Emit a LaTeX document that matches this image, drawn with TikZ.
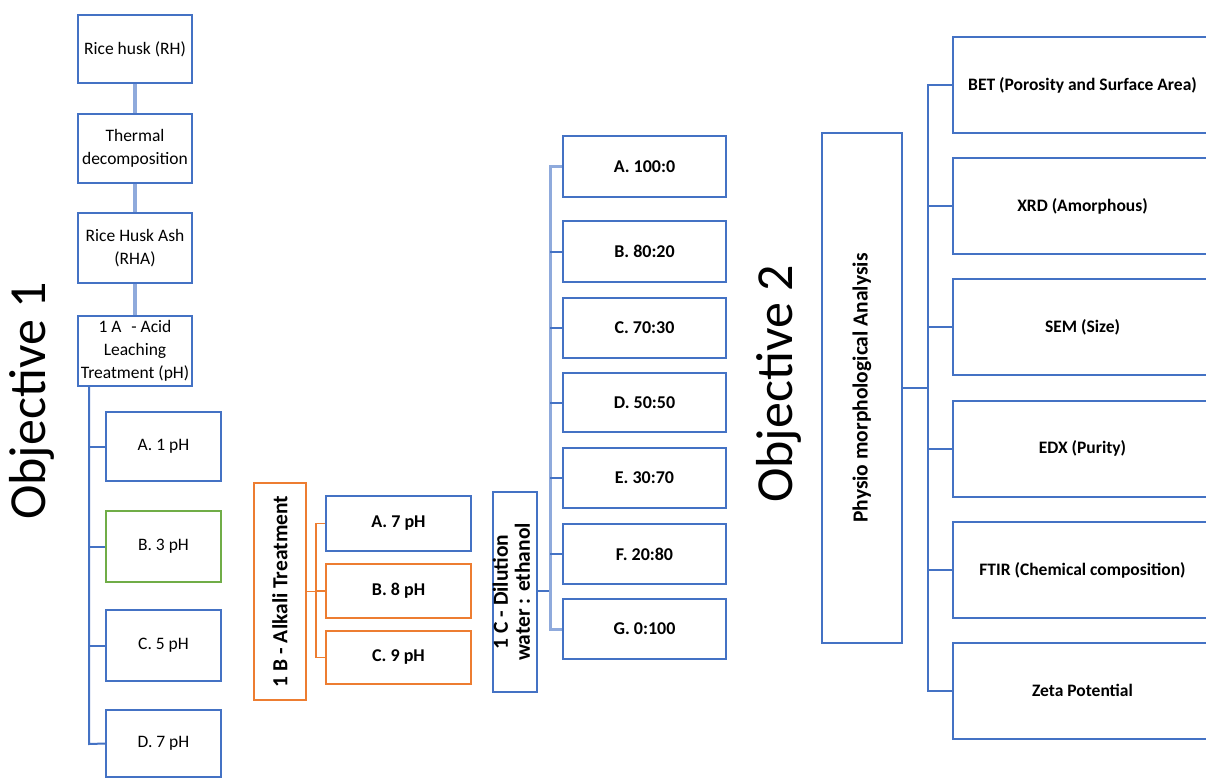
\documentclass[tikz,border=0pt]{standalone}
\usepackage{fontspec}
\usepackage{graphicx}
\setmainfont{Carlito}
\definecolor{mblue}{HTML}{4472C4}
\definecolor{lblue}{HTML}{8FAADC}
\definecolor{mgreen}{HTML}{70AD47}
\definecolor{morange}{HTML}{ED7D31}
\tikzset{
  bx/.style={draw=mblue, line width=2pt, inner sep=0pt, align=center, font=\fontsize{17.5}{23}\selectfont},
  bbx/.style={bx, font=\bfseries\fontsize{18}{22}\selectfont},
  rbx/.style={bx, font=\bfseries\fontsize{17.5}{22}\selectfont, minimum width=259pt, minimum height=96pt},
  cbx/.style={bbx, minimum width=163pt, minimum height=60pt},
  pbx/.style={bx, minimum width=115pt, minimum height=69pt},
  lbx/.style={bx, minimum width=114pt, minimum height=69pt},
  lnk/.style={draw=lblue, line width=3.2pt},
  trunk/.style={draw=mblue, line width=2pt},
  ltrunk/.style={draw=lblue, line width=3pt},
  otrunk/.style={draw=morange, line width=1.8pt},
  objtxt/.style={inner sep=0pt, font=\fontsize{52}{54}\selectfont}
}
\begin{document}
\begin{tikzpicture}[x=1pt,y=-1pt]
\useasboundingbox (0,0) rectangle (1206,778);

% Objective labels
\node[objtxt] (obj1) at (32,401) {\rotatebox{90}{Objective 1}};
\node[objtxt] (obj2) at (779,384) {\rotatebox{90}{Objective 2}};

% Left column
\node[lbx, minimum height=68pt] (rh) at (135,49) {Rice husk (RH)};
\node[lbx] (td) at (135,148.5) {Thermal\\decomposition};
\node[lbx, minimum height=70pt] (rha) at (135,248) {Rice Husk Ash\\(RHA)};
\node[lbx, minimum height=70pt] (aA) at (135,351) {1 A\,\, - Acid\\Leaching\\Treatment (pH)};
\draw[lnk] (rh) -- (td);
\draw[lnk] (td) -- (rha);
\draw[lnk] (rha) -- (aA);

\node[pbx] (pA) at (163.5,446.5) {A. 1 pH};
\node[pbx, draw=mgreen, minimum height=71pt] (pB) at (163.5,546.5) {B. 3 pH};
\node[pbx, minimum height=71pt] (pC) at (163.5,645.5) {C. 5 pH};
\node[pbx, minimum height=67pt] (pD) at (163.5,743.5) {D. 7 pH};
\coordinate (t1) at (89,744);
\draw[trunk] (aA.south -| t1) -- (t1) -- (pD.west);
\draw[trunk] (pA.west) -- (pA.west -| t1);
\draw[trunk] (pB.west) -- (pB.west -| t1);
\draw[trunk] (pC.west) -- (pC.west -| t1);

% 1B
\node[bx, draw=morange, minimum width=52pt, minimum height=217pt, font=\bfseries\fontsize{21.5}{22}\selectfont] (b1) at (280,591.5) {\rotatebox{90}{1 B - Alkali Treatment}};
\node[bbx, minimum width=145pt, minimum height=55pt] (bA) at (398.5,523.5) {A. 7 pH};
\node[bbx, draw=morange, minimum width=145pt, minimum height=54pt] (bB) at (398.5,591) {B. 8 pH};
\node[bbx, draw=morange, minimum width=145pt, minimum height=53pt] (bC) at (398.5,657.5) {C. 9 pH};
\coordinate (t2) at (316,591.5);
\draw[otrunk] (b1.east) -- (t2);
\draw[otrunk] (bA.west) -| (t2);
\draw[otrunk] (bB.west) -- (bB.west -| t2);
\draw[otrunk] (bC.west) -| (t2);

% 1C
\node[bx, minimum width=43pt, minimum height=200pt, font=\bfseries\fontsize{21.5}{22}\selectfont] (c1) at (514.5,592) {\rotatebox{90}{\begin{tabular}{@{}c@{}}1 C - Dilution\\water : ethanol\end{tabular}}};
\node[cbx, minimum height=61pt] (cA) at (644.5,166.5) {A. 100:0};
\node[cbx, minimum height=61pt] (cB) at (644.5,251.5) {B. 80:20};
\node[cbx] (cC) at (644.5,328) {C. 70:30};
\node[cbx, minimum height=59pt] (cD) at (644.5,402.5) {D. 50:50};
\node[cbx] (cE) at (644.5,478) {E. 30:70};
\node[cbx] (cF) at (644.5,554) {F. 20:80};
\node[cbx] (cG) at (644.5,629) {G. 0:100};
\coordinate (t3) at (550,591);
\draw[trunk] (c1.east |- t3) -- (t3);
\draw[ltrunk] (cA.west) -| (t3);
\draw[ltrunk] (cG.west) -| (t3);
\foreach \n in {cB,cC,cD,cE,cF} \draw[trunk] (\n.west) -- (\n.west -| t3);

% Objective 2
\node[bx, minimum width=80pt, minimum height=510pt, font=\bfseries\fontsize{21.5}{22}\selectfont] (ph) at (862,388) {\rotatebox{90}{Physio morphological Analysis}};
\node[rbx] (oA) at (1082.5,85) {BET (Porosity and Surface Area)};
\node[rbx] (oB) at (1082.5,206) {XRD (Amorphous)};
\node[rbx] (oC) at (1082.5,327) {SEM (Size)};
\node[rbx] (oD) at (1082.5,448.5) {EDX (Purity)};
\node[rbx] (oE) at (1082.5,570) {FTIR (Chemical composition)};
\node[rbx] (oF) at (1082.5,690.5) {Zeta Potential};
\coordinate (t4) at (928,388);
\draw[trunk] (ph.east |- t4) -- (t4);
\draw[trunk] (oA.west) -| (t4);
\draw[trunk] (oF.west) -| (t4);
\foreach \n in {oB,oC,oD,oE} \draw[trunk] (\n.west) -- (\n.west -| t4);
\end{tikzpicture}
\end{document}
